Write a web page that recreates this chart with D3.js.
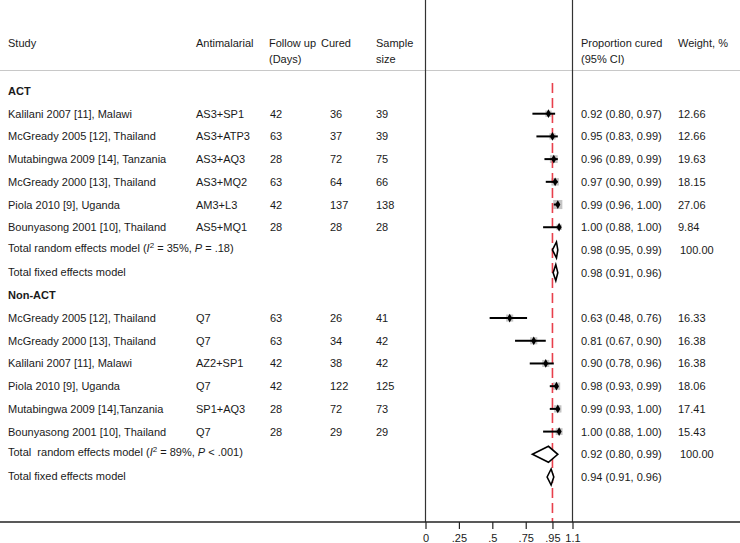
<!DOCTYPE html>
<html>
<head>
<meta charset="utf-8">
<title>Forest plot</title>
<script src="https://d3js.org/d3.v7.min.js"></script>
<style>
  body { margin: 0; background: #fff; }
  text { font-family: "Liberation Sans", Arial, sans-serif; font-size: 11px; fill: #1a1a1a; white-space: pre; }
</style>
</head>
<body>
<div id="chart"></div>
<script>
// ACT studies
var actStudies = ["Kalilani 2007 [11], Malawi", "McGready 2005 [12], Thailand", "Mutabingwa 2009 [14], Tanzania",
  "McGready 2000 [13], Thailand", "Piola 2010 [9], Uganda", "Bounyasong 2001 [10], Thailand"];
var actDrugs = ["AS3+SP1", "AS3+ATP3", "AS3+AQ3", "AS3+MQ2", "AM3+L3", "AS5+MQ1"];
var actFollowUp = [42, 63, 28, 63, 42, 28];
var actCured = [36, 37, 72, 64, 137, 28];
var actSample = [39, 39, 75, 66, 138, 28];
var actEst = [0.92, 0.95, 0.96, 0.97, 0.99, 1.00];
var actLo = [0.80, 0.83, 0.89, 0.90, 0.96, 0.88];
var actHi = [0.97, 0.99, 0.99, 0.99, 1.00, 1.00];
var actWeight = [12.66, 12.66, 19.63, 18.15, 27.06, 9.84];

// Non-ACT studies
var nonStudies = ["McGready 2005 [12], Thailand", "McGready 2000 [13], Thailand", "Kalilani 2007 [11], Malawi",
  "Piola 2010 [9], Uganda", "Mutabingwa 2009 [14],Tanzania", "Bounyasong 2001 [10], Thailand"];
var nonDrugs = ["Q7", "Q7", "AZ2+SP1", "Q7", "SP1+AQ3", "Q7"];
var nonFollowUp = [63, 63, 42, 42, 28, 28];
var nonCured = [26, 34, 38, 122, 72, 29];
var nonSample = [41, 42, 42, 125, 73, 29];
var nonEst = [0.63, 0.81, 0.90, 0.98, 0.99, 1.00];
var nonLo = [0.48, 0.67, 0.78, 0.93, 0.93, 0.88];
var nonHi = [0.76, 0.90, 0.96, 0.99, 1.00, 1.00];
var nonWeight = [16.33, 16.38, 16.38, 18.06, 17.41, 15.43];

// pooled: [random, fixed]
var actPooledText = ["0.98 (0.95, 0.99)", "0.98 (0.91, 0.96)"];
var actPooledEst = [0.98, 0.975];
var actPooledLo = [0.95, 0.955];
var actPooledHi = [0.99, 0.99];
var nonPooledText = ["0.92 (0.80, 0.99)", "0.94 (0.91, 0.96)"];
var nonPooledEst = [0.92, 0.94];
var nonPooledLo = [0.80, 0.91];
var nonPooledHi = [0.99, 0.96];

var overall = 0.95;
var tickValues = [0, 0.25, 0.5, 0.75, 0.95, 1.1];
var tickLabels = ["0", ".25", ".5", ".75", ".95", "1.1"];

var width = 740, height = 543;
var axisY = 522;

var svg = d3.select("#chart").append("svg")
  .attr("width", width).attr("height", height);

// build rows
var rows = [];
function addGroup(label, names, drugs, fu, cured, n, est, lo, hi, w, pText, pEst, pLo, pHi, hetero) {
  rows.push({ type: "group", label: label });
  names.forEach(function (s, i) {
    rows.push({ type: "study", label: s, drug: drugs[i], fu: fu[i], cured: cured[i], n: n[i],
      est: est[i], lo: lo[i], hi: hi[i], w: w[i] });
  });
  rows.push({ type: "random", hetero: hetero, text: pText[0], est: pEst[0], lo: pLo[0], hi: pHi[0], w: 100 });
  rows.push({ type: "fixed", text: pText[1], est: pEst[1], lo: pLo[1], hi: pHi[1] });
}
addGroup("ACT", actStudies, actDrugs, actFollowUp, actCured, actSample, actEst, actLo, actHi, actWeight,
  actPooledText, actPooledEst, actPooledLo, actPooledHi, { pre: "Total random effects model (", i2: "35%", p: "= .18)" });
addGroup("Non-ACT", nonStudies, nonDrugs, nonFollowUp, nonCured, nonSample, nonEst, nonLo, nonHi, nonWeight,
  nonPooledText, nonPooledEst, nonPooledLo, nonPooledHi, { pre: "Total  random effects model (", i2: "89%", p: "< .001)" });

var x = d3.scaleLinear().domain([0, 1.1]).range([425.5, 572.5]);
var y = d3.scalePoint().domain(d3.range(rows.length)).range([91, 477]);
var f2 = d3.format(".2f");

var col = { study: 8, drug: 196, fu: 269, cured: 330, n: 376, ci: 581, w: 678 };

// header
var head = svg.append("g");
[["Study", col.study], ["Antimalarial", col.drug], ["Follow up", col.fu], ["Cured", col.cured - 9],
 ["Sample", col.n], ["Proportion cured", col.ci], ["Weight, %", col.w]].forEach(function (h) {
  head.append("text").attr("x", h[1]).attr("y", 47).text(h[0]);
});
[["(Days)", col.fu], ["size", col.n], ["(95% CI)", col.ci]].forEach(function (h) {
  head.append("text").attr("x", h[1]).attr("y", 63).text(h[0]);
});
svg.append("line").attr("x1", 0).attr("x2", width).attr("y1", 70.5).attr("y2", 70.5)
  .attr("stroke", "#c8c8c8").attr("stroke-width", 1);

// frame lines
[0, 1.1].forEach(function (v) {
  svg.append("line").attr("x1", x(v)).attr("x2", x(v)).attr("y1", 0).attr("y2", axisY)
    .attr("stroke", "#333").attr("stroke-width", 1.2);
});

// text rows
var tg = svg.append("g");
rows.forEach(function (r, i) {
  var yy = y(i) + 4;
  if (r.type === "group") {
    tg.append("text").attr("x", col.study).attr("y", yy).attr("font-weight", "bold").text(r.label);
  } else if (r.type === "study") {
    tg.append("text").attr("x", col.study).attr("y", yy).text(r.label);
    tg.append("text").attr("x", col.drug).attr("y", yy).text(r.drug);
    tg.append("text").attr("x", col.fu + 1).attr("y", yy).text(r.fu);
    tg.append("text").attr("x", col.cured).attr("y", yy).text(r.cured);
    tg.append("text").attr("x", col.n).attr("y", yy).text(r.n);
    tg.append("text").attr("x", col.ci).attr("y", yy)
      .text(f2(r.est) + " (" + f2(r.lo) + ", " + f2(r.hi) + ")");
    tg.append("text").attr("x", col.w).attr("y", yy).text(f2(r.w));
  } else if (r.type === "random") {
    var t = tg.append("text").attr("x", col.study).attr("y", yy - 2);
    t.append("tspan").text(r.hetero.pre);
    t.append("tspan").attr("font-style", "italic").text("I");
    t.append("tspan").attr("dy", -4).attr("font-size", "8px").text("2");
    t.append("tspan").attr("dy", 4).text(" = " + r.hetero.i2 + ", ");
    t.append("tspan").attr("font-style", "italic").text("P");
    t.append("tspan").text(" " + r.hetero.p);
    tg.append("text").attr("x", col.ci).attr("y", yy).text(r.text);
    tg.append("text").attr("x", col.w + 2).attr("y", yy).text(f2(r.w));
  } else {
    tg.append("text").attr("x", col.study).attr("y", yy - 1).text("Total fixed effects model");
    tg.append("text").attr("x", col.ci).attr("y", yy).text(r.text);
  }
});

// markers
var studies = rows.map(function (r, i) { return Object.assign({ i: i }, r); })
  .filter(function (r) { return r.type === "study"; });
var pooled = rows.map(function (r, i) { return Object.assign({ i: i }, r); })
  .filter(function (r) { return r.type === "random" || r.type === "fixed"; });

var side = function (d) { return Math.sqrt(d.w) * 1.75; };
var mg = svg.append("g");
mg.selectAll("rect.w").data(studies).enter().append("rect")
  .attr("x", function (d) { return x(d.est) - side(d) / 2; })
  .attr("y", function (d) { return y(d.i) - side(d) / 2; })
  .attr("width", side)
  .attr("height", side)
  .attr("fill", "#c4c4c4");

// overall reference line
svg.append("line").attr("x1", x(overall)).attr("x2", x(overall)).attr("y1", 83).attr("y2", axisY)
  .attr("stroke", "#e8404c").attr("stroke-width", 1.6).attr("stroke-dasharray", "10,5");

mg = svg.append("g");
mg.selectAll("line.ci").data(studies).enter().append("line")
  .attr("x1", function (d) { return x(d.lo); })
  .attr("x2", function (d) { return x(d.hi); })
  .attr("y1", function (d) { return y(d.i); })
  .attr("y2", function (d) { return y(d.i); })
  .attr("stroke", "#000").attr("stroke-width", 2);
mg.selectAll("path.pt").data(studies).enter().append("path")
  .attr("transform", function (d) { return "translate(" + x(d.est) + "," + y(d.i) + ")"; })
  .attr("d", d3.symbol().type(d3.symbolDiamond).size(22))
  .attr("fill", "#000");

mg.selectAll("path.pool").data(pooled).enter().append("path")
  .attr("d", function (d) {
    var cy = y(d.i), h = 8;
    return "M" + x(d.lo) + "," + cy + "L" + x(d.est) + "," + (cy - h) +
      "L" + x(d.hi) + "," + cy + "L" + x(d.est) + "," + (cy + h) + "Z";
  })
  .attr("fill", "#fff").attr("stroke", "#000").attr("stroke-width", 1.6)
  .attr("stroke-linejoin", "miter");

// axis
svg.append("line").attr("x1", 0).attr("x2", width).attr("y1", axisY).attr("y2", axisY)
  .attr("stroke", "#222").attr("stroke-width", 1.5);
var axis = d3.axisBottom(x).tickValues(tickValues).tickSize(7)
  .tickFormat(function (d, i) { return tickLabels[i]; });
var ag = svg.append("g").attr("transform", "translate(0," + axisY + ")").call(axis);
ag.select(".domain").remove();
ag.selectAll(".tick line").attr("stroke", "#222").attr("stroke-width", 1.2);
ag.selectAll(".tick text").attr("font-family", "Liberation Sans, Arial, sans-serif")
  .attr("font-size", "10.5px").attr("fill", "#1a1a1a").attr("y", 14).attr("dy", "0.55em");
</script>
</body>
</html>
